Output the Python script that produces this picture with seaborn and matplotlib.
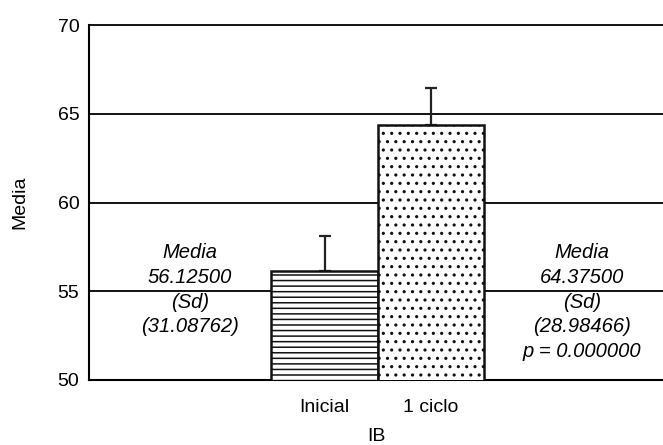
import matplotlib
matplotlib.use("Agg")
import matplotlib.pyplot as plt
import seaborn as sns
import pandas as pd

categories = ["Inicial", "1 ciclo"]
means = [56.125, 64.375]
errors = [2.0, 2.05]
hatches = ["---", ".."]
left_note = ["Media", "56.12500", "(Sd)", "(31.08762)"]
right_note = ["Media", "64.37500", "(Sd)", "(28.98466)", "p = 0.000000"]
yticks = [50, 55, 60, 65, 70]

sns.set_style("white")
plt.rcParams["font.family"] = ["Liberation Sans", "DejaVu Sans"]
plt.rcParams["hatch.linewidth"] = 1.1
plt.rcParams["hatch.color"] = "black"
plt.rcParams["text.color"] = "black"
plt.rcParams["axes.labelcolor"] = "black"

df = pd.DataFrame({"cat": categories, "val": means})

fig = plt.figure(figsize=(6.63, 4.45), dpi=100)
ax = fig.add_axes([89 / 663, 1 - 380 / 445, 1 - 89 / 663, 355 / 445])

sns.barplot(data=df, x="cat", y="val", ax=ax, color="white", width=1.0,
            edgecolor="black", linewidth=1.8, errorbar=None, zorder=3)
for patch, h in zip(ax.patches, hatches):
    patch.set_hatch(h)
    patch.set_facecolor("white")
    patch.set_edgecolor("#111111")

ax.errorbar(range(len(categories)), means, yerr=[[0, 0], errors], fmt="none",
            ecolor="#222222", elinewidth=1.6, capsize=4.5, capthick=1.6, zorder=2)

ax.set_ylim(50, 70)
ax.set_xlim(-2.22, 3.19)
ax.set_yticks(yticks)
for y in yticks[1:]:
    ax.axhline(y, color="black", lw=1.3, zorder=1, clip_on=False)

for s in ["top", "right"]:
    ax.spines[s].set_visible(False)
ax.spines["left"].set_linewidth(1.5)
ax.spines["bottom"].set_linewidth(1.5)
ax.spines["left"].set_color("black")
ax.spines["bottom"].set_color("black")

ax.tick_params(axis="y", length=5, width=1.3, direction="out", labelsize=14, pad=2, colors="black")
ax.tick_params(axis="x", length=0, labelsize=14, pad=14, colors="black")
ax.set_ylabel("Media", fontsize=14, labelpad=21, color="black")
ax.set_xlabel("IB", fontsize=14, labelpad=8, color="black")

ax.text(0.176, 0.385, "\n".join(left_note), transform=ax.transAxes, ha="center",
        va="top", fontsize=14.5, style="italic", linespacing=1.38, color="black")
ax.text(0.859, 0.385, "\n".join(right_note), transform=ax.transAxes, ha="center",
        va="top", fontsize=14.5, style="italic", linespacing=1.38, color="black")

fig.savefig("out.png", dpi=100)
